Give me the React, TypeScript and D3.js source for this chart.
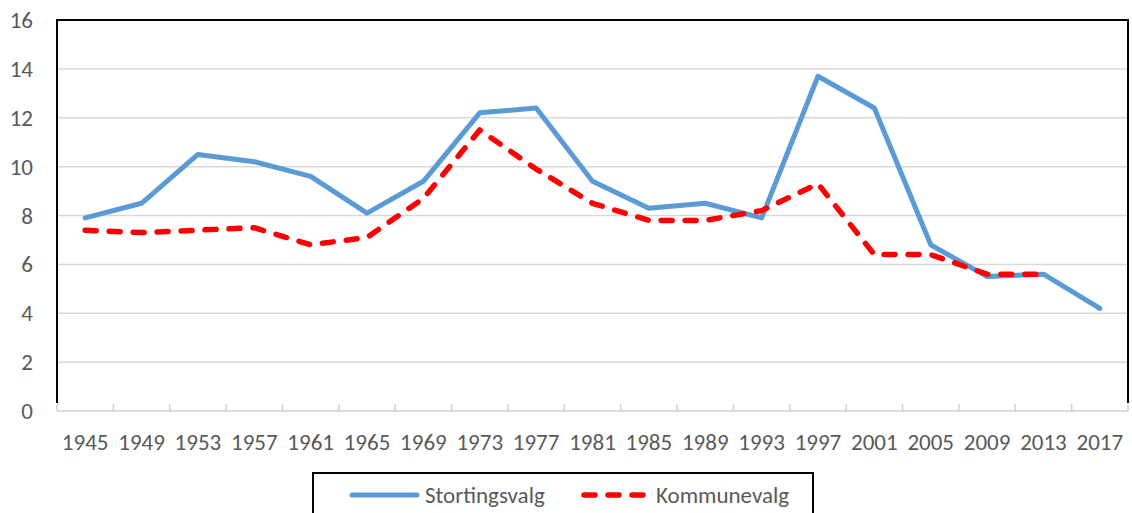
import React from "react";
import * as d3 from "d3";

const years = ["1945", "1949", "1953", "1957", "1961", "1965", "1969", "1973", "1977", "1981", "1985", "1989", "1993", "1997", "2001", "2005", "2009", "2013", "2017"];
const stortingsvalg = [7.9, 8.5, 10.5, 10.2, 9.6, 8.1, 9.4, 12.2, 12.4, 9.4, 8.3, 8.5, 7.9, 13.7, 12.4, 6.8, 5.5, 5.6, 4.2];
const kommunevalg: (number | null)[] = [7.4, 7.3, 7.4, 7.5, 6.8, 7.1, 8.7, 11.5, 9.9, 8.5, 7.8, 7.8, 8.2, 9.3, 6.4, 6.4, 5.6, 5.6, null];
const yTicks = [0, 2, 4, 6, 8, 10, 12, 14, 16];

const W = 1132;
const H = 513;
const left = 57;
const right = 1128;
const top = 20;
const bottom = 411;
const font = "Carlito, Calibri, Lato, 'Open Sans', sans-serif";
const textColor = "#595959";
const fs = 23;

export default function App() {
  const x = d3.scaleBand().domain(years).range([left, right]);
  const y = d3.scaleLinear().domain([0, 16]).range([bottom, top]);
  const cx = (yr: string) => (x(yr) ?? 0) + x.bandwidth() / 2;

  const line = d3
    .line<[string, number | null]>()
    .defined((d) => d[1] != null)
    .x((d) => cx(d[0]))
    .y((d) => y(d[1] as number));

  const blue = line(years.map((yr, i) => [yr, stortingsvalg[i]]));
  const red = line(years.map((yr, i) => [yr, kommunevalg[i]]));

  return (
    <svg
      width={W}
      height={H}
      style={{ position: "absolute", left: 0, top: 0, background: "#fff" }}
    >
      {/* gridlines */}
      {yTicks.slice(1).map((t) => (
        <line key={t} x1={left} x2={right} y1={y(t)} y2={y(t)} stroke="#d9d9d9" strokeWidth={1.5} />
      ))}
      {/* frame: top, left, right in black */}
      <path
        d={`M${left},${bottom - 8} V${top} H${right} V${bottom - 8}`}
        fill="none"
        stroke="#000"
        strokeWidth={2}
      />
      {/* x axis */}
      <line x1={left} x2={right} y1={bottom} y2={bottom} stroke="#d0d0d0" strokeWidth={1.5} />
      {years.map((yr) => (
        <line key={yr} x1={x(yr)} x2={x(yr)} y1={bottom} y2={bottom - 7} stroke="#d0d0d0" strokeWidth={1.5} />
      ))}
      <line x1={right} x2={right} y1={bottom} y2={bottom - 7} stroke="#d0d0d0" strokeWidth={1.5} />

      {/* y labels */}
      {yTicks.map((t) => (
        <text
          key={t}
          x={33}
          y={y(t)}
          textAnchor="end"
          dominantBaseline="central"
          fontFamily={font}
          fontSize={fs}
          fill={textColor}
        >
          {t}
        </text>
      ))}
      {/* x labels */}
      {years.map((yr) => (
        <text
          key={yr}
          x={cx(yr)}
          y={442}
          textAnchor="middle"
          dominantBaseline="central"
          fontFamily={font}
          fontSize={fs}
          fill={textColor}
        >
          {yr}
        </text>
      ))}

      {/* series */}
      <path d={blue ?? ""} fill="none" stroke="#5b9bd5" strokeWidth={5} strokeLinejoin="round" strokeLinecap="round" />
      <path
        d={red ?? ""}
        fill="none"
        stroke="#ff0000"
        strokeWidth={5.5}
        strokeDasharray="11 13"
        strokeLinejoin="round"
        strokeLinecap="round"
      />

      {/* legend */}
      <rect x={313} y={473} width={500} height={60} fill="#fff" stroke="#000" strokeWidth={2} />
      <line x1={352} x2={417} y1={495} y2={495} stroke="#5b9bd5" strokeWidth={5} strokeLinecap="round" />
      <text x={425} y={495} dominantBaseline="central" fontFamily={font} fontSize={fs} fill={textColor}>
        Stortingsvalg
      </text>
      <line
        x1={584}
        x2={643}
        y1={495}
        y2={495}
        stroke="#ff0000"
        strokeWidth={5.5}
        strokeDasharray="11 13"
        strokeLinecap="round"
      />
      <text x={656} y={495} dominantBaseline="central" fontFamily={font} fontSize={fs} fill={textColor}>
        Kommunevalg
      </text>
    </svg>
  );
}
